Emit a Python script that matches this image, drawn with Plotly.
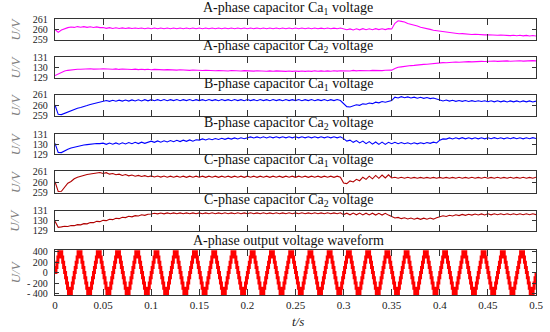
import plotly.graph_objects as go

# ---------------- data ----------------
# capacitor voltages sampled every 1/300 s from 0 to 0.5 s (151 samples)
A_CA1 = [
    260.00, 259.72, 259.95, 260.10, 260.18, 260.24, 260.20, 260.28, 260.22, 260.28, 260.21, 260.27, 260.20, 260.25, 260.18,
    260.19, 260.11, 260.18, 260.10, 260.17, 260.10, 260.16, 260.09, 260.16, 260.09, 260.15, 260.09, 260.15, 260.08, 260.15,
    260.08, 260.15, 260.08, 260.15, 260.08, 260.14, 260.08, 260.15, 260.08, 260.14, 260.07, 260.14, 260.08, 260.14, 260.07,
    260.14, 260.08, 260.14, 260.07, 260.14, 260.08, 260.15, 260.08, 260.14, 260.07, 260.14, 260.08, 260.14, 260.08, 260.14,
    260.07, 260.14, 260.08, 260.15, 260.08, 260.14, 260.07, 260.14, 260.08, 260.15, 260.08, 260.14, 260.07, 260.14, 260.08,
    260.14, 260.08, 260.14, 260.07, 260.14, 260.08, 260.14, 260.07, 260.13, 260.08, 260.14, 260.07, 260.13, 260.08, 260.14,
    260.05, 259.98, 260.06, 259.96, 260.07, 259.97, 260.08, 259.98, 260.07, 259.98, 260.08, 259.99, 260.07, 259.99, 260.08,
    260.05, 260.60, 260.84, 260.78, 260.72, 260.58, 260.52, 260.40, 260.34, 260.22, 260.17, 260.06, 260.01, 259.92, 259.88,
    259.78, 259.76, 259.70, 259.69, 259.64, 259.63, 259.59, 259.60, 259.55, 259.56, 259.52, 259.54, 259.50, 259.52, 259.48,
    259.50, 259.46, 259.49, 259.44, 259.47, 259.43, 259.46, 259.41, 259.45, 259.40, 259.44, 259.39, 259.43, 259.38, 259.42,
    259.38,
]
A_CA2 = [
    129.20, 129.35, 129.55, 129.65, 129.72, 129.77, 129.79, 129.83, 129.82, 129.86, 129.83, 129.87, 129.84, 129.88, 129.85,
    129.87, 129.83, 129.86, 129.82, 129.86, 129.81, 129.85, 129.81, 129.84, 129.80, 129.84, 129.79, 129.83, 129.79, 129.83,
    129.78, 129.81, 129.77, 129.80, 129.76, 129.79, 129.75, 129.78, 129.74, 129.77, 129.73, 129.76, 129.72, 129.75, 129.71,
    129.74, 129.70, 129.73, 129.69, 129.72, 129.68, 129.71, 129.67, 129.70, 129.66, 129.70, 129.66, 129.69, 129.65, 129.69,
    129.65, 129.68, 129.64, 129.68, 129.64, 129.67, 129.63, 129.67, 129.63, 129.67, 129.63, 129.66, 129.62, 129.66, 129.62,
    129.66, 129.62, 129.66, 129.62, 129.66, 129.62, 129.67, 129.63, 129.67, 129.63, 129.67, 129.63, 129.68, 129.64, 129.68,
    129.66, 129.70, 129.66, 129.71, 129.67, 129.71, 129.68, 129.72, 129.68, 129.72, 129.69, 129.73, 129.69, 129.73, 129.70,
    129.74, 129.90, 130.02, 130.06, 130.12, 130.14, 130.19, 130.21, 130.26, 130.27, 130.31, 130.32, 130.36, 130.37, 130.41,
    130.44, 130.48, 130.47, 130.51, 130.50, 130.54, 130.52, 130.56, 130.54, 130.58, 130.56, 130.60, 130.58, 130.61, 130.59,
    130.63, 130.60, 130.64, 130.61, 130.65, 130.62, 130.66, 130.62, 130.66, 130.63, 130.67, 130.63, 130.67, 130.64, 130.68,
    130.66,
]
B_CA1 = [
    260.03, 259.15, 259.12, 259.25, 259.40, 259.52, 259.65, 259.72, 259.80, 259.92, 259.98, 260.08, 260.15, 260.22, 260.27,
    260.36, 260.46, 260.38, 260.48, 260.39, 260.49, 260.40, 260.50, 260.40, 260.52, 260.41, 260.53, 260.42, 260.54, 260.43,
    260.54, 260.44, 260.54, 260.44, 260.55, 260.44, 260.54, 260.45, 260.55, 260.44, 260.54, 260.45, 260.55, 260.44, 260.54,
    260.45, 260.54, 260.44, 260.55, 260.45, 260.54, 260.44, 260.55, 260.45, 260.54, 260.44, 260.55, 260.45, 260.54, 260.44,
    260.55, 260.45, 260.54, 260.44, 260.55, 260.45, 260.54, 260.44, 260.55, 260.45, 260.54, 260.44, 260.55, 260.45, 260.54,
    260.45, 260.55, 260.44, 260.54, 260.45, 260.55, 260.44, 260.54, 260.45, 260.55, 260.44, 260.54, 260.45, 260.55, 260.45,
    260.20, 259.88, 259.85, 259.95, 260.05, 260.00, 260.14, 260.10, 260.22, 260.16, 260.30, 260.24, 260.36, 260.30, 260.40,
    260.45, 260.78, 260.70, 260.82, 260.72, 260.80, 260.70, 260.78, 260.68, 260.76, 260.66, 260.74, 260.64, 260.70, 260.60,
    260.48, 260.42, 260.50, 260.40, 260.48, 260.38, 260.46, 260.38, 260.46, 260.37, 260.45, 260.36, 260.44, 260.36, 260.44,
    260.34, 260.43, 260.33, 260.43, 260.33, 260.42, 260.32, 260.42, 260.33, 260.42, 260.32, 260.42, 260.33, 260.42, 260.32,
    260.40,
]
B_CA2 = [
    130.08, 129.18, 129.16, 129.35, 129.50, 129.62, 129.70, 129.80, 129.85, 129.92, 129.95, 130.00, 130.02, 130.06, 130.05,
    130.10, 129.98, 130.11, 129.99, 130.12, 130.00, 130.14, 130.02, 130.16, 130.04, 130.18, 130.06, 130.20, 130.08, 130.22,
    130.30, 130.18, 130.32, 130.20, 130.34, 130.22, 130.36, 130.24, 130.38, 130.26, 130.40, 130.28, 130.42, 130.30, 130.44,
    130.40, 130.52, 130.42, 130.54, 130.44, 130.56, 130.46, 130.58, 130.48, 130.60, 130.50, 130.62, 130.52, 130.63, 130.54,
    130.62, 130.72, 130.62, 130.72, 130.62, 130.73, 130.62, 130.73, 130.63, 130.73, 130.63, 130.73, 130.63, 130.73, 130.63,
    130.73, 130.63, 130.73, 130.63, 130.74, 130.63, 130.73, 130.63, 130.74, 130.63, 130.73, 130.63, 130.74, 130.63, 130.73,
    130.55, 130.30, 130.40, 130.18, 130.35, 130.12, 130.30, 130.05, 130.25, 130.00, 130.22, 129.98, 130.20, 129.98, 130.18,
    130.05, 130.18, 130.05, 130.16, 130.04, 130.14, 130.02, 130.13, 130.03, 130.14, 130.05, 130.16, 130.08, 130.20, 130.12,
    130.40, 130.52, 130.50, 130.62, 130.52, 130.64, 130.53, 130.65, 130.53, 130.64, 130.53, 130.64, 130.53, 130.64, 130.53,
    130.64, 130.54, 130.65, 130.54, 130.64, 130.53, 130.64, 130.54, 130.65, 130.54, 130.64, 130.53, 130.64, 130.54, 130.65,
    130.56,
]
C_CA1 = [
    260.03, 259.10, 259.12, 259.50, 259.88, 260.05, 260.30, 260.45, 260.55, 260.62, 260.70, 260.75, 260.82, 260.86, 260.90,
    260.80, 260.88, 260.74, 260.80, 260.68, 260.74, 260.62, 260.70, 260.58, 260.66, 260.55, 260.62, 260.52, 260.60, 260.50,
    260.58, 260.47, 260.56, 260.46, 260.56, 260.45, 260.55, 260.45, 260.55, 260.45, 260.55, 260.44, 260.55, 260.45, 260.55,
    260.45, 260.55, 260.44, 260.55, 260.45, 260.55, 260.44, 260.55, 260.45, 260.55, 260.44, 260.55, 260.45, 260.55, 260.44,
    260.55, 260.45, 260.55, 260.44, 260.55, 260.45, 260.55, 260.44, 260.55, 260.45, 260.55, 260.44, 260.55, 260.45, 260.55,
    260.44, 260.55, 260.45, 260.55, 260.44, 260.55, 260.45, 260.55, 260.44, 260.55, 260.45, 260.55, 260.44, 260.55, 260.45,
    259.90, 259.85, 260.10, 260.00, 260.25, 260.12, 260.45, 260.25, 260.55, 260.30, 260.62, 260.35, 260.65, 260.38, 260.68,
    260.38, 260.45, 260.36, 260.44, 260.36, 260.44, 260.35, 260.43, 260.35, 260.43, 260.35, 260.43, 260.35, 260.43, 260.35,
    260.43, 260.35, 260.43, 260.35, 260.43, 260.35, 260.44, 260.35, 260.43, 260.35, 260.44, 260.35, 260.43, 260.35, 260.44,
    260.35, 260.43, 260.35, 260.44, 260.35, 260.43, 260.35, 260.44, 260.35, 260.43, 260.35, 260.44, 260.35, 260.43, 260.36,
    260.45,
]
C_CA2 = [
    129.95, 129.35, 129.40, 129.46, 129.44, 129.54, 129.52, 129.62, 129.60, 129.72, 129.70, 129.84, 129.82, 129.95, 129.92,
    130.05, 130.02, 130.16, 130.12, 130.26, 130.22, 130.36, 130.32, 130.45, 130.40, 130.52, 130.48, 130.60, 130.55, 130.66,
    130.68, 130.76, 130.70, 130.78, 130.70, 130.79, 130.71, 130.79, 130.71, 130.79, 130.71, 130.79, 130.71, 130.79, 130.71,
    130.79, 130.71, 130.79, 130.71, 130.80, 130.71, 130.79, 130.71, 130.80, 130.71, 130.79, 130.71, 130.80, 130.71, 130.79,
    130.71, 130.80, 130.71, 130.79, 130.71, 130.80, 130.71, 130.79, 130.71, 130.80, 130.71, 130.79, 130.71, 130.80, 130.71,
    130.79, 130.71, 130.80, 130.71, 130.79, 130.71, 130.80, 130.71, 130.79, 130.71, 130.80, 130.71, 130.79, 130.71, 130.80,
    130.62, 130.76, 130.60, 130.77, 130.60, 130.77, 130.59, 130.76, 130.59, 130.76, 130.58, 130.75, 130.58, 130.75, 130.57,
    130.40, 130.28, 130.34, 130.22, 130.30, 130.18, 130.28, 130.16, 130.27, 130.15, 130.27, 130.16, 130.28, 130.17, 130.30,
    130.42, 130.50, 130.44, 130.56, 130.48, 130.60, 130.52, 130.64, 130.55, 130.66, 130.57, 130.68, 130.58, 130.69, 130.59,
    130.70, 130.60, 130.70, 130.61, 130.71, 130.61, 130.71, 130.61, 130.71, 130.61, 130.71, 130.61, 130.71, 130.61, 130.71,
    130.62,
]
CAP_DT = 1 / 300.0

# A-phase output voltage: staircase levels over one 20 ms cycle (1 ms steps), 25 cycles
OUT_CYCLE = [0, 100, 200, 300, 400, 400, 400, 300, 200, 100,
             0, -100, -200, -300, -400, -400, -400, -300, -200, -100]
N_CYCLES = 25
OUT_DT = 0.001

TITLES = [
    "A-phase capacitor Ca<sub>1</sub> voltage",
    "A-phase capacitor Ca<sub>2</sub> voltage",
    "B-phase capacitor Ca<sub>1</sub> voltage",
    "B-phase capacitor Ca<sub>2</sub> voltage",
    "C-phase capacitor Ca<sub>1</sub> voltage",
    "C-phase capacitor Ca<sub>2</sub> voltage",
    "A-phase output voltage waveform",
]
X_TICKS = [0, 0.05, 0.1, 0.15, 0.2, 0.25, 0.3, 0.35, 0.4, 0.45, 0.5]
X_TICK_TEXT = ["0", "0.05", "0.1", "0.15", "0.2", "0.25", "0.3", "0.35", "0.4", "0.45", "0.5"]
Y_TICKS_CA1 = [259, 260, 261]
Y_TICKS_CA2 = [129, 130, 131]
Y_TICKS_OUT = [-400, -200, 0, 200, 400]
Y_TICK_TEXT_OUT = ["- 400", "- 200", "0", "200", "400"]

# ---------------- figure ----------------
W, H = 550, 332
cap_t = [i * CAP_DT for i in range(len(A_CA1))]
out_v = OUT_CYCLE * N_CYCLES + [OUT_CYCLE[0]]
out_t = [i * OUT_DT for i in range(len(out_v))]

series = [
    (cap_t, A_CA1, "#ff00ff", 1.1, "linear", Y_TICKS_CA1, None, [258.99, 261.01]),
    (cap_t, A_CA2, "#ff00ff", 1.1, "linear", Y_TICKS_CA2, None, [128.99, 131.01]),
    (cap_t, B_CA1, "#0000ff", 1.1, "linear", Y_TICKS_CA1, None, [258.99, 261.01]),
    (cap_t, B_CA2, "#0000ff", 1.1, "linear", Y_TICKS_CA2, None, [128.99, 131.01]),
    (cap_t, C_CA1, "#b00000", 1.1, "linear", Y_TICKS_CA1, None, [258.99, 261.01]),
    (cap_t, C_CA2, "#b00000", 1.1, "linear", Y_TICKS_CA2, None, [128.99, 131.01]),
    (out_t, out_v, "#ff0000", 3.0, "hv", Y_TICKS_OUT, Y_TICK_TEXT_OUT, [-430, 440]),
]
# panel frames in pixels (top, bottom)
frames_px = [(19, 40), (57.3, 77.7), (94.7, 116), (134, 154.3),
             (171.3, 192.7), (210.7, 231), (249.7, 295)]

fig = go.Figure()
serif = "Liberation Serif, Times New Roman, serif"
frame_col = "#333333"
annotations = []
for i, (xs, ys, col, lw, shape, yt, ytt, yr) in enumerate(series):
    n = i + 1
    sx = "" if n == 1 else str(n)
    fig.add_trace(go.Scatter(x=xs, y=ys, mode="lines", line=dict(color=col, width=lw, shape=shape),
                             xaxis="x" + sx, yaxis="y" + sx, showlegend=False, hoverinfo="skip"))
    top, bot = frames_px[i]
    last = (n == len(series))
    fig.layout["xaxis" + sx] = dict(
        domain=[0, 1], range=[0, 0.5], anchor="y" + sx, automargin=False,
        tickvals=X_TICKS, ticktext=X_TICK_TEXT, showticklabels=last,
        ticks="inside", ticklen=6, tickwidth=1.1, tickcolor=frame_col,
        showline=True, linecolor=frame_col, linewidth=1.3, mirror="ticks",
        showgrid=False, zeroline=False, ticklabelstandoff=0,
        tickfont=dict(family=serif, size=11, color="#222"),
    )
    ydict = dict(
        domain=[1 - bot / H, 1 - top / H], range=yr, anchor="x" + sx, automargin=False,
        tickvals=yt, ticks="inside", ticklen=4, tickwidth=1.1, tickcolor=frame_col,
        showline=True, linecolor=frame_col, linewidth=1.3, mirror="ticks",
        showgrid=False, zeroline=False, ticklabelstandoff=4,
        tickfont=dict(family=serif, size=10, color="#222"),
    )
    if ytt is not None:
        ydict["ticktext"] = ytt
    fig.layout["yaxis" + sx] = ydict
    annotations.append(dict(text=TITLES[i], xref="paper", x=0.485, xanchor="center",
                            yref="y" + sx + " domain", y=1, yanchor="bottom", yshift=0,
                            showarrow=False, font=dict(family=serif, size=14, color="#111")))
    annotations.append(dict(text="<i>U/V</i>", xref="paper", x=(15 - 55) / 481, xanchor="center",
                            yref="y" + sx + " domain", y=0.5, yanchor="middle", textangle=-90,
                            showarrow=False, font=dict(family=serif, size=13, color="#808080")))

annotations.append(dict(text="<i>t/s</i>", xref="paper", x=(298 - 55) / 481, xanchor="center",
                        yref="paper", y=1 - 321 / H, yanchor="middle", showarrow=False,
                        font=dict(family=serif, size=13, color="#222")))

fig.update_layout(
    width=W, height=H, margin=dict(l=55, r=14, t=0, b=0, autoexpand=False),
    paper_bgcolor="white", plot_bgcolor="white",
    annotations=annotations, showlegend=False, hovermode=False,
)
fig.write_html("out.html", config={"displayModeBar": False},
               post_script="document.body.style.margin='0';document.body.style.overflow='hidden';")
